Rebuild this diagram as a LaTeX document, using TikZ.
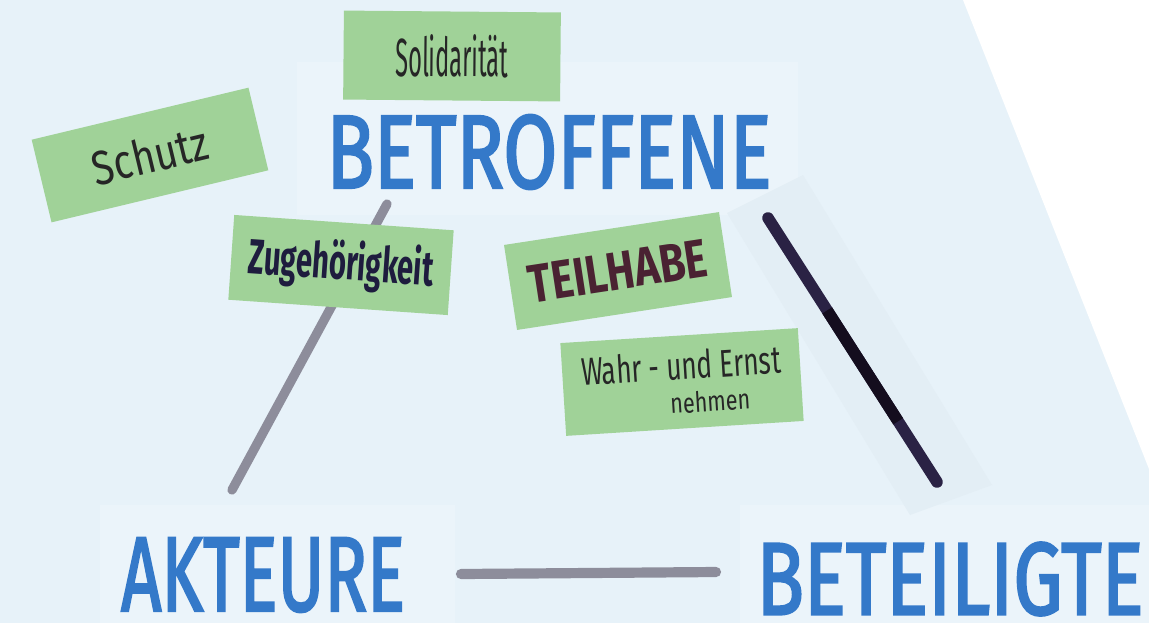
\documentclass[tikz,border=0pt]{standalone}
\usepackage{fontspec}
\setmainfont{Fira Sans}
\newfontfamily\markerfont{Fira Sans}[FakeBold=2.5]
\usepackage{graphicx}
\usetikzlibrary{calc}

\definecolor{paper}{HTML}{E7F2F9}
\definecolor{paperlight}{HTML}{EBF4FA}
\definecolor{papershade}{HTML}{E3EEF5}
\definecolor{marker}{HTML}{3479C9}
\definecolor{notegreen}{HTML}{A0D298}
\definecolor{pencil}{HTML}{8D8D9B}
\definecolor{ink}{HTML}{2A2244}
\definecolor{inkdark}{HTML}{140D1E}
\definecolor{navyink}{HTML}{1E1C3E}
\definecolor{brownink}{HTML}{4A2232}

\begin{document}
\begin{tikzpicture}
		[x=0.02cm, y=-0.02cm,
		 keyword/.style={text=marker, inner sep=0pt, font=\markerfont},
		 note/.style={fill=notegreen, inner sep=0pt, text=black!85},
		 greyline/.style={pencil, line width=5.3pt, line cap=round},
		 inkline/.style={ink, line width=6.6pt, line cap=round}]
		% paper and the faint patches of the photo
		\fill[paper] (0,0) rectangle (1149,623);
		\fill[white] (963,0) -- (1149,0) -- (1149,469) -- cycle;
		\fill[paperlight] (297,62) rectangle (798,215);
		\fill[paperlight] (100,505) rectangle (455,623);
		\fill[paperlight] (740,505) rectangle (1149,623);
		\fill[papershade] (727,213) -- (803,175) -- (992,485) -- (910,515) -- cycle;

		% the three groups
		\node[keyword] (betroffene) at (549,152) {\resizebox{8.9cm}{1.46cm}{BETROFFENE}};
		\node[keyword] (akteure) at (263,575) {\resizebox{5.68cm}{1.46cm}{AKTEURE}};
		\node[keyword] (beteiligte) at (950,579) {\resizebox{7.74cm}{1.44cm}{BETEILIGTE}};

		% line ends
		\coordinate (betroffene-sw) at (387,204);
		\coordinate (akteure-n) at (232,490);
		\coordinate (akteure-e) at (461,574);
		\coordinate (beteiligte-w) at (716,572);
		\coordinate (betroffene-se) at (768,218);
		\coordinate (beteiligte-n) at (937,482);

		\draw[greyline] (betroffene-sw) -- (akteure-n);
		\draw[greyline, line width=5.8pt] (akteure-e) -- (beteiligte-w);
		\draw[inkline] (betroffene-se) -- (beteiligte-n);
		\draw[inkline, inkdark, line cap=butt]
			($(betroffene-se)!0.35!(beteiligte-n)$) -- ($(betroffene-se)!0.77!(beteiligte-n)$);

		% sticky notes
		\node[note, minimum width=4.34cm, minimum height=1.78cm, rotate=-0.5] (solidaritaet)
			at (452,56) {\resizebox{2.26cm}{0.84cm}{Solidarität}};
		\node[note, minimum width=4.46cm, minimum height=1.7cm, rotate=13.5] (schutz)
			at (150,155) {\resizebox{2.36cm}{0.72cm}{Schutz}};
		\node[note, minimum width=4.4cm, minimum height=1.7cm, rotate=-4, text=navyink] (zugehoerigkeit)
			at (341,265) {\resizebox{3.7cm}{0.8cm}{\bfseries Zugehörigkeit}};
		\node[note, minimum width=4.35cm, minimum height=1.72cm, rotate=8.7, text=brownink] (teilhabe)
			at (618,271) {\resizebox{3.6cm}{0.75cm}{\bfseries TEILHABE}};
		\node[note, minimum width=4.76cm, minimum height=1.86cm, rotate=3.6, align=left] (ernst)
			at (682,382) {\resizebox{4cm}{0.58cm}{Wahr - und Ernst}\\[6pt]
				\hspace*{1.74cm}\resizebox{1.6cm}{0.42cm}{nehmen}};

		\useasboundingbox (0,0) rectangle (1149,623);
	\end{tikzpicture}
\end{document}
